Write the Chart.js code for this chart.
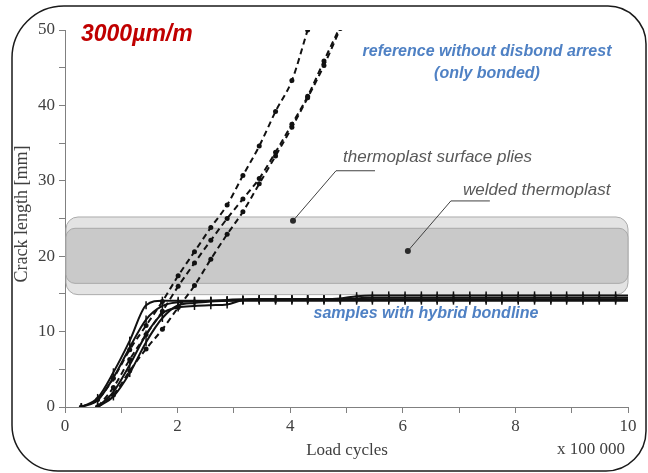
<!DOCTYPE html>
<html>
<head>
<meta charset="utf-8">
<script src="https://cdn.jsdelivr.net/npm/chart.js@4"></script>
<style>
  body { margin: 0; background: #fff; }
  canvas { display: block; }
</style>
</head>
<body>
<canvas id="crackChart" width="648" height="473"></canvas>
<script>
// load cycles (x 100 000), one reading every ~28 700 cycles
const cycles = [0.29, 0.58, 0.86, 1.15, 1.44, 1.73, 2.01, 2.30, 2.59, 2.88, 3.16, 3.45, 3.74, 4.03, 4.31, 4.60, 4.89,
    5.18, 5.46, 5.75, 6.04, 6.33, 6.61, 6.90, 7.19, 7.48, 7.76, 8.05, 8.34, 8.63, 8.91, 9.20, 9.49, 9.78, 10.06];

// reference without disbond arrest (dashed)
const refA = [0, 1.0, 3.8, 7.6, 10.8, 14.0, 17.4, 20.6, 23.8, 26.8, 30.7, 34.6, 39.2, 43.3, 50.0];
const refB = [null, 0, 2.6, 6.3, 9.6, 12.7, 16.0, 19.1, 22.1, 25.0, 27.6, 30.3, 33.8, 37.5, 41.2, 45.9, 50.5];
const refC = [null, 0, 1.6, 4.8, 7.7, 10.3, 13.2, 16.1, 19.6, 22.9, 25.9, 29.6, 33.3, 37.1, 41.0, 45.3, 50.2];

// samples with hybrid bondline (solid)
const hyb1 = [0, 1.2, 4.6, 8.8, 13.5, 14.1, 14.1, 14.1, 14.1, 14.1, 14.1, 14.1, 14.1, 14.1, 14.1, 14.1, 14.1,
    14.1, 14.1, 14.1, 14.1, 14.1, 14.1, 14.1, 14.1, 14.1, 14.1, 14.1, 14.1, 14.1, 14.1, 14.1, 14.1, 14.1, 14.1];
const hyb2 = [0, 0.9, 3.9, 7.9, 11.6, 13.4, 13.9, 14.0, 14.1, 14.2, 14.3, 14.3, 14.3, 14.3, 14.3, 14.3, 14.3,
    14.3, 14.3, 14.3, 14.3, 14.3, 14.3, 14.3, 14.3, 14.3, 14.3, 14.3, 14.3, 14.3, 14.3, 14.3, 14.3, 14.3, 14.3];
const hyb3 = [null, 0, 2.0, 5.6, 9.6, 12.4, 13.2, 13.4, 13.5, 13.6, 14.2, 14.3, 14.3, 14.3, 14.3, 14.3, 14.3,
    14.4, 14.5, 14.5, 14.5, 14.5, 14.5, 14.5, 14.5, 14.5, 14.5, 14.5, 14.5, 14.5, 14.5, 14.5, 14.5, 14.5, 14.5];
const hyb4 = [null, 0, 1.4, 4.5, 8.6, 11.8, 13.5, 13.8, 14.0, 14.1, 14.2, 14.3, 14.3, 14.3, 14.3, 14.3, 14.4,
    14.7, 14.8, 14.8, 14.8, 14.8, 14.8, 14.8, 14.8, 14.8, 14.8, 14.8, 14.8, 14.8, 14.8, 14.8, 14.8, 14.8, 14.8];

// tick labels
const xTickLabels = [0, 2, 4, 6, 8, 10];
const yTickLabels = [0, 10, 20, 30, 40, 50];

// grey bands (crack length range, mm) and annotation anchor points
const bandSurface = [14.9, 25.2];
const bandWelded = [16.4, 23.7];
const surfaceDot = [4.05, 24.7];
const weldedDot = [6.09, 20.7];

function toPoints(values) {
    return values.map((v, i) => ({ x: cycles[i], y: v }));
}

function dashed(values) {
    return {
        data: toPoints(values),
        borderColor: '#111',
        borderWidth: 2,
        borderDash: [6, 4],
        pointRadius: 2.5,
        pointBackgroundColor: '#111',
        pointBorderColor: '#111',
        pointBorderWidth: 0,
        cubicInterpolationMode: 'monotone',
        spanGaps: false
    };
}

function solid(values) {
    return {
        data: toPoints(values),
        borderColor: '#111',
        borderWidth: 2,
        pointStyle: 'line',
        rotation: 90,
        pointRadius: 4,
        pointBorderColor: '#111',
        pointBorderWidth: 1.5,
        cubicInterpolationMode: 'monotone',
        spanGaps: false
    };
}

function roundBox(ctx, x1, y1, x2, y2, r) {
    ctx.beginPath();
    ctx.roundRect(x1, y1, x2 - x1, y2 - y1, r);
}

// bands behind the curves
const bandsPlugin = {
    id: 'bands',
    beforeDatasetsDraw(chart) {
        const ctx = chart.ctx;
        const xs = chart.scales.x, ys = chart.scales.y;
        const left = xs.getPixelForValue(0) + 1, right = xs.getPixelForValue(10);
        ctx.save();
        roundBox(ctx, left, ys.getPixelForValue(bandSurface[1]), right, ys.getPixelForValue(bandSurface[0]), 12);
        ctx.fillStyle = '#e3e3e3';
        ctx.fill();
        ctx.strokeStyle = '#ababab';
        ctx.lineWidth = 1;
        ctx.stroke();
        roundBox(ctx, left, ys.getPixelForValue(bandWelded[1]), right, ys.getPixelForValue(bandWelded[0]), 9);
        ctx.fillStyle = '#c9c9c9';
        ctx.fill();
        ctx.strokeStyle = '#a9a9a9';
        ctx.stroke();
        ctx.restore();
    }
};

// frame, labels and leader lines
const textPlugin = {
    id: 'texts',
    afterDraw(chart) {
        const ctx = chart.ctx;
        const xs = chart.scales.x, ys = chart.scales.y;
        ctx.save();

        // outer rounded frame
        ctx.beginPath();
        ctx.roundRect(12, 6, 634, 465, [52, 38, 40, 46]);
        ctx.strokeStyle = '#1a1a1a';
        ctx.lineWidth = 1.5;
        ctx.stroke();

        // leader lines
        ctx.strokeStyle = '#404040';
        ctx.fillStyle = '#2a2a2a';
        ctx.lineWidth = 1;
        [surfaceDot, weldedDot].forEach(p => {
            const px = xs.getPixelForValue(p[0]), py = ys.getPixelForValue(p[1]);
            ctx.beginPath();
            ctx.moveTo(px, py);
            ctx.lineTo(px + 43, py - 50);
            ctx.lineTo(px + 82, py - 50);
            ctx.stroke();
            ctx.beginPath();
            ctx.arc(px, py, 3, 0, Math.PI * 2);
            ctx.fill();
        });

        ctx.textBaseline = 'middle';
        ctx.textAlign = 'left';
        ctx.fillStyle = '#c00000';
        ctx.font = 'italic bold 23px "Liberation Sans"';
        ctx.fillText('3000µm/m', 81, 35);

        ctx.textAlign = 'center';
        ctx.fillStyle = '#4f81c4';
        ctx.font = 'italic bold 16px "Liberation Sans"';
        ctx.fillText('reference without disbond arrest', 487, 52);
        ctx.fillText('(only bonded)', 487, 74);
        ctx.fillText('samples with hybrid bondline', 426, 314);

        ctx.textAlign = 'left';
        ctx.fillStyle = '#595959';
        ctx.font = 'italic 17px "Liberation Sans"';
        ctx.fillText('thermoplast surface plies', 343, 157);
        ctx.fillText('welded thermoplast', 463, 190);

        // axis titles
        ctx.fillStyle = '#404040';
        ctx.font = '17px "Liberation Serif"';
        ctx.textAlign = 'center';
        ctx.fillText('Load cycles', 347, 451);
        ctx.fillText('x 100 000', 591, 450);
        ctx.font = '18px "Liberation Serif"';
        ctx.translate(22, 214);
        ctx.rotate(-Math.PI / 2);
        ctx.fillText('Crack length [mm]', 0, 0);

        ctx.restore();
    }
};

const tickFont = { family: 'Liberation Serif', size: 17 };

new Chart(document.getElementById('crackChart').getContext('2d'), {
    type: 'line',
    data: {
        datasets: [
            dashed(refA), dashed(refB), dashed(refC),
            solid(hyb1), solid(hyb2), solid(hyb3), solid(hyb4)
        ]
    },
    options: {
        responsive: false,
        animation: false,
        layout: { padding: { left: 0, right: 20, top: 30, bottom: 0 } },
        plugins: {
            legend: { display: false },
            tooltip: { enabled: false }
        },
        scales: {
            x: {
                type: 'linear',
                min: 0,
                max: 10,
                afterFit: s => { s.height = 66; },
                ticks: {
                    stepSize: 1,
                    autoSkip: false,
                    maxRotation: 0,
                    padding: 3,
                    color: '#404040',
                    font: tickFont,
                    callback: v => xTickLabels.includes(v) ? String(v) : ''
                },
                grid: { drawOnChartArea: false, tickLength: 6, color: '#808080' },
                border: { color: '#808080' }
            },
            y: {
                min: 0,
                max: 50,
                afterFit: s => { s.width = 65; },
                ticks: {
                    stepSize: 5,
                    autoSkip: false,
                    padding: 4,
                    color: '#404040',
                    font: tickFont,
                    callback: v => yTickLabels.includes(v) ? String(v) : ''
                },
                grid: { drawOnChartArea: false, tickLength: 6, color: '#808080' },
                border: { color: '#808080' }
            }
        }
    },
    plugins: [bandsPlugin, textPlugin]
});
</script>
</body>
</html>
